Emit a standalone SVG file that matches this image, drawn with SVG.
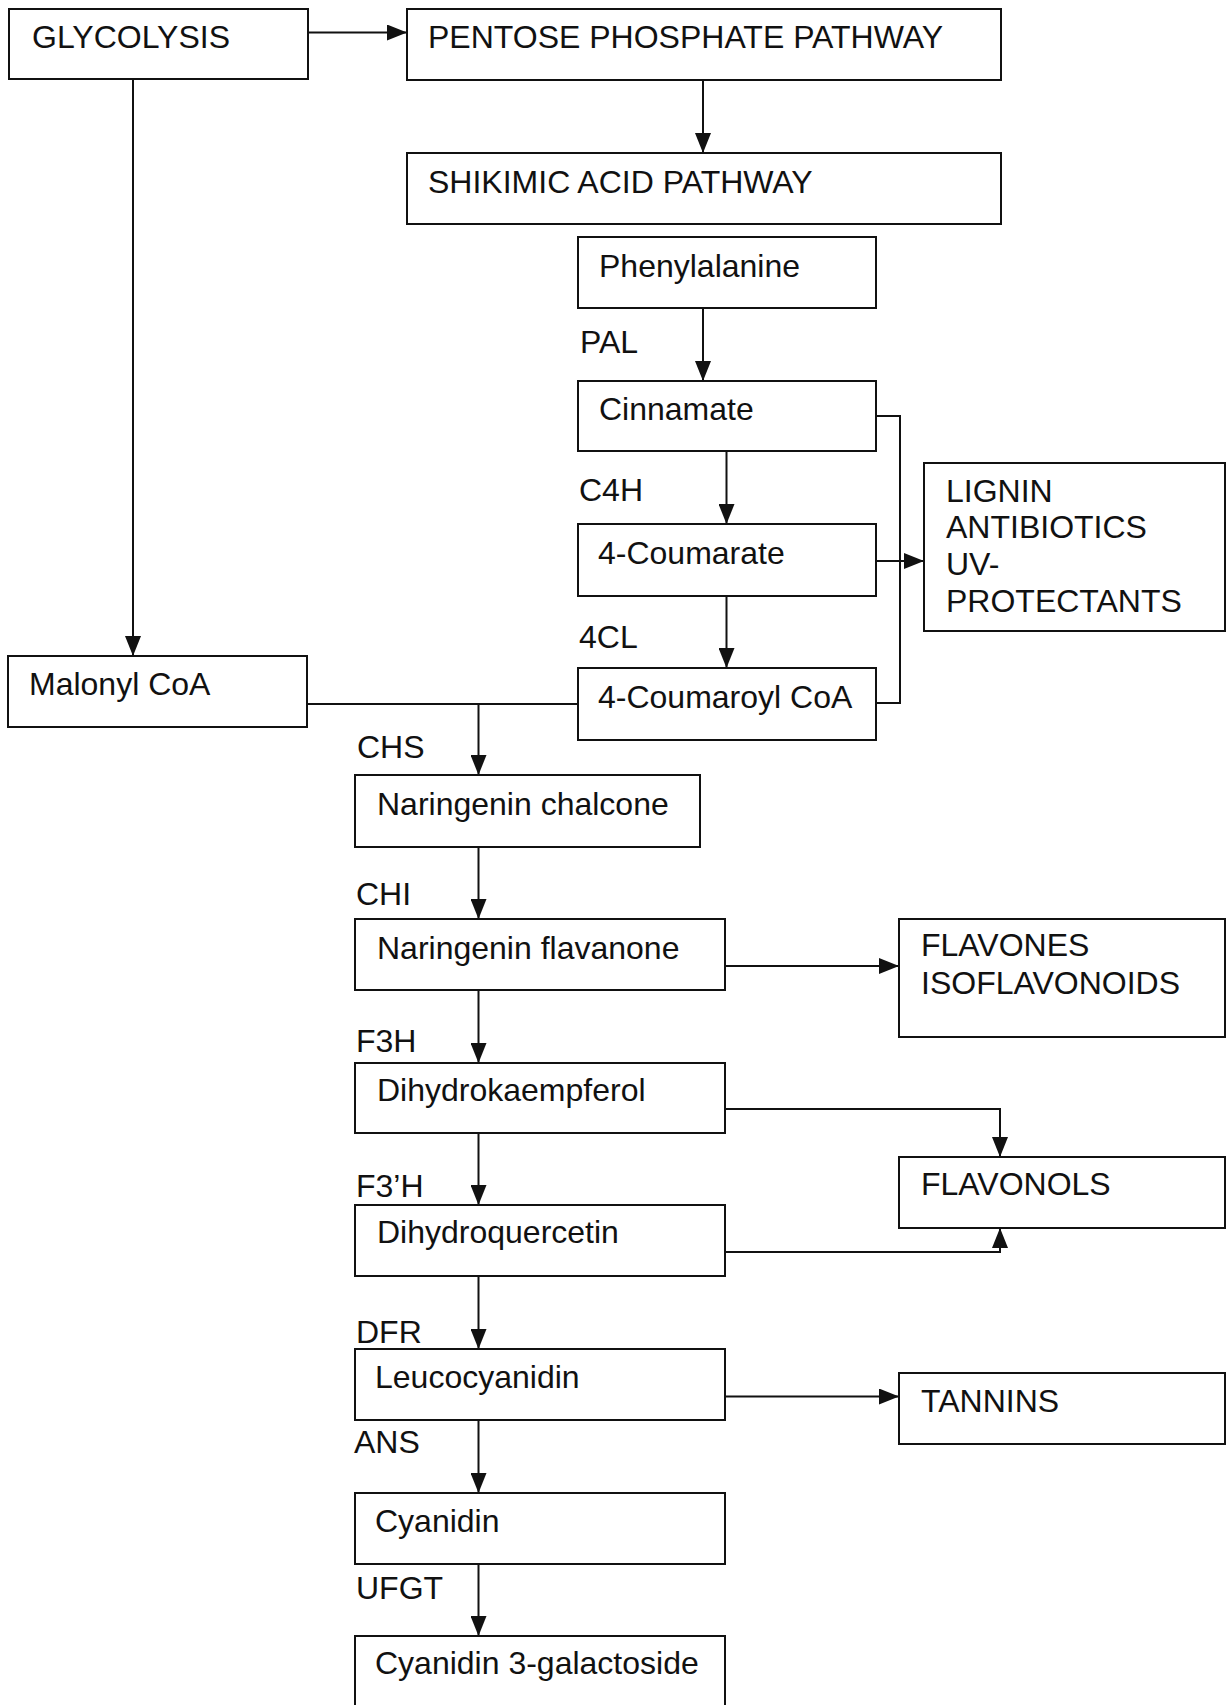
<svg xmlns="http://www.w3.org/2000/svg" width="1229" height="1705" viewBox="0 0 1229 1705">
<style>
.box{fill:#fff;stroke:#111;stroke-width:2}
.t{font-family:"Liberation Sans",Arial,sans-serif;font-size:32px;fill:#111}
.c{fill:none;stroke:#111;stroke-width:2}
</style>
<defs>
<marker id="ah" markerWidth="20" markerHeight="16" refX="20" refY="8" orient="auto" markerUnits="userSpaceOnUse">
<path d="M0,0 L20,8 L0,16 Z" fill="#111"/>
</marker>
</defs>
<rect width="1229" height="1705" fill="#fff"/>
<g id="connectors">
<path class="c" d="M308,32.5 H407" marker-end="url(#ah)"/>
<path class="c" d="M133,79 V656" marker-end="url(#ah)"/>
<path class="c" d="M703,80 V153" marker-end="url(#ah)"/>
<path class="c" d="M703,308 V381" marker-end="url(#ah)"/>
<path class="c" d="M726.5,451 V524" marker-end="url(#ah)"/>
<path class="c" d="M726.5,596 V668" marker-end="url(#ah)"/>
<path class="c" d="M876,416 H900 V703 H876"/>
<path class="c" d="M876,561 H924" marker-end="url(#ah)"/>
<path class="c" d="M307,704 H578"/>
<path class="c" d="M478.5,704 V775" marker-end="url(#ah)"/>
<path class="c" d="M478.5,847 V919" marker-end="url(#ah)"/>
<path class="c" d="M725,966 H899" marker-end="url(#ah)"/>
<path class="c" d="M478.5,990 V1063" marker-end="url(#ah)"/>
<path class="c" d="M725,1109 H1000 V1157" marker-end="url(#ah)"/>
<path class="c" d="M478.5,1133 V1205" marker-end="url(#ah)"/>
<path class="c" d="M725,1252 H1000 V1228" marker-end="url(#ah)"/>
<path class="c" d="M478.5,1276 V1349" marker-end="url(#ah)"/>
<path class="c" d="M725,1396.5 H899" marker-end="url(#ah)"/>
<path class="c" d="M478.5,1420 V1493" marker-end="url(#ah)"/>
<path class="c" d="M478.5,1564 V1636" marker-end="url(#ah)"/>
</g>
<g id="glycolysis"><rect class="box" x="9" y="9" width="299" height="70"/><text class="t" x="32" y="47.5">GLYCOLYSIS</text></g>
<g id="pentose"><rect class="box" x="407" y="9" width="594" height="71"/><text class="t" x="428" y="48">PENTOSE PHOSPHATE PATHWAY</text></g>
<g id="shikimic"><rect class="box" x="407" y="153" width="594" height="71"/><text class="t" x="428" y="192.5">SHIKIMIC ACID PATHWAY</text></g>
<g id="phenylalanine"><rect class="box" x="578" y="237" width="298" height="71"/><text class="t" x="599" y="276.5">Phenylalanine</text></g>
<g id="cinnamate"><rect class="box" x="578" y="381" width="298" height="70"/><text class="t" x="599" y="420">Cinnamate</text></g>
<g id="coumarate"><rect class="box" x="578" y="524" width="298" height="72"/><text class="t" x="598" y="564">4-Coumarate</text></g>
<g id="coumaroylcoa"><rect class="box" x="578" y="668" width="298" height="72"/><text class="t" x="598" y="708">4-Coumaroyl CoA</text></g>
<g id="lignin"><rect class="box" x="924" y="463" width="301" height="168"/><text class="t" x="946" y="501.5">LIGNIN</text><text class="t" x="946" y="538.3">ANTIBIOTICS</text><text class="t" x="946" y="574.5">UV-</text><text class="t" x="946" y="611.5">PROTECTANTS</text></g>
<g id="malonylcoa"><rect class="box" x="8" y="656" width="299" height="71"/><text class="t" x="29" y="695">Malonyl CoA</text></g>
<g id="chalcone"><rect class="box" x="355" y="775" width="345" height="72"/><text class="t" x="377" y="815">Naringenin chalcone</text></g>
<g id="flavanone"><rect class="box" x="355" y="919" width="370" height="71"/><text class="t" x="377" y="959">Naringenin flavanone</text></g>
<g id="flavones"><rect class="box" x="899" y="919" width="326" height="118"/><text class="t" x="921" y="955.5">FLAVONES</text><text class="t" x="921" y="994">ISOFLAVONOIDS</text></g>
<g id="dihydrokaempferol"><rect class="box" x="355" y="1063" width="370" height="70"/><text class="t" x="377" y="1101">Dihydrokaempferol</text></g>
<g id="flavonols"><rect class="box" x="899" y="1157" width="326" height="71"/><text class="t" x="921" y="1195">FLAVONOLS</text></g>
<g id="dihydroquercetin"><rect class="box" x="355" y="1205" width="370" height="71"/><text class="t" x="377" y="1243">Dihydroquercetin</text></g>
<g id="leucocyanidin"><rect class="box" x="355" y="1349" width="370" height="71"/><text class="t" x="375" y="1388">Leucocyanidin</text></g>
<g id="tannins"><rect class="box" x="899" y="1373" width="326" height="71"/><text class="t" x="921" y="1411.5">TANNINS</text></g>
<g id="cyanidin"><rect class="box" x="355" y="1493" width="370" height="71"/><text class="t" x="375" y="1531.5">Cyanidin</text></g>
<g id="galactoside"><rect class="box" x="355" y="1636" width="370" height="80"/><text class="t" x="375" y="1674">Cyanidin 3-galactoside</text></g>
<g id="labels">
<text class="t" x="580" y="353">PAL</text>
<text class="t" x="579" y="501">C4H</text>
<text class="t" x="579" y="648">4CL</text>
<text class="t" x="357" y="758">CHS</text>
<text class="t" x="356" y="905">CHI</text>
<text class="t" x="356" y="1051.5">F3H</text>
<text class="t" x="356" y="1196.5">F3’H</text>
<text class="t" x="356" y="1343">DFR</text>
<text class="t" x="354" y="1453">ANS</text>
<text class="t" x="356" y="1599">UFGT</text>
</g>
</svg>
